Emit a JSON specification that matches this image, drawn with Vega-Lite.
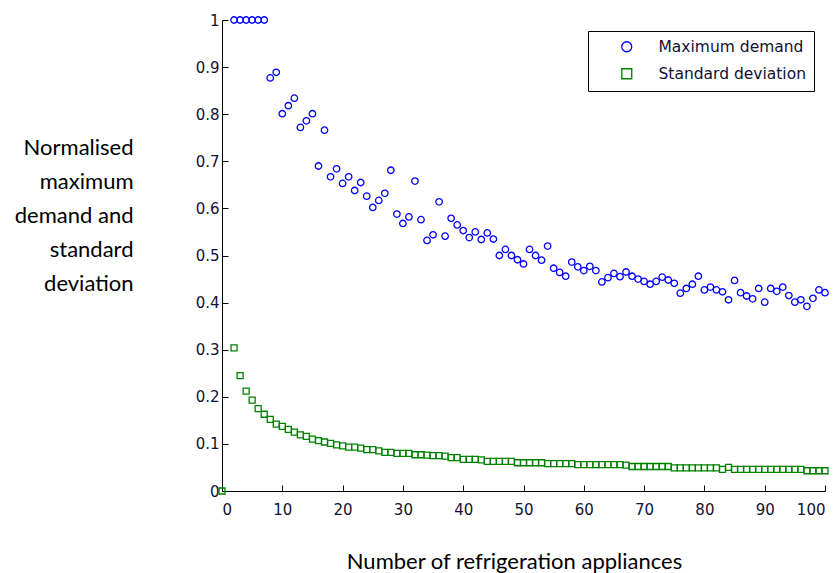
{
  "$schema": "https://vega.github.io/schema/vega-lite/v6.json",
  "autosize": "none",
  "width": 603,
  "height": 471,
  "padding": {"left": 222, "top": 20, "right": 13, "bottom": 82},
  "background": "white",
  "config": {
    "view": {"stroke": null},
    "axis": {
      "grid": false,
      "domainColor": "black",
      "domainWidth": 1,
      "tickColor": "black",
      "tickWidth": 1,
      "tickSize": -6,
      "labelColor": "#111133",
      "labelFont": "DejaVu Sans",
      "labelFontSize": 15,
      "titleColor": "black",
      "titleFont": "Lato",
      "titleFontSize": 22,
      "titleFontWeight": "normal"
    }
  },
  "datasets": {
    "md": [
      {"n": 2, "v": 1}, {"n": 3, "v": 1}, {"n": 4, "v": 1}, {"n": 5, "v": 1}, {"n": 6, "v": 1}, {"n": 7, "v": 1},
      {"n": 8, "v": 0.877}, {"n": 9, "v": 0.889}, {"n": 10, "v": 0.801}, {"n": 11, "v": 0.818}, {"n": 12, "v": 0.834},
      {"n": 13, "v": 0.772}, {"n": 14, "v": 0.786}, {"n": 15, "v": 0.801}, {"n": 16, "v": 0.69}, {"n": 17, "v": 0.766},
      {"n": 18, "v": 0.667}, {"n": 19, "v": 0.684}, {"n": 20, "v": 0.653}, {"n": 21, "v": 0.667}, {"n": 22, "v": 0.638},
      {"n": 23, "v": 0.655}, {"n": 24, "v": 0.626}, {"n": 25, "v": 0.602}, {"n": 26, "v": 0.617}, {"n": 27, "v": 0.632},
      {"n": 28, "v": 0.681}, {"n": 29, "v": 0.588}, {"n": 30, "v": 0.568}, {"n": 31, "v": 0.582}, {"n": 32, "v": 0.658},
      {"n": 33, "v": 0.576}, {"n": 34, "v": 0.532}, {"n": 35, "v": 0.544}, {"n": 36, "v": 0.614}, {"n": 37, "v": 0.541},
      {"n": 38, "v": 0.579}, {"n": 39, "v": 0.565}, {"n": 40, "v": 0.553}, {"n": 41, "v": 0.538}, {"n": 42, "v": 0.55},
      {"n": 43, "v": 0.534}, {"n": 44, "v": 0.548}, {"n": 45, "v": 0.535}, {"n": 46, "v": 0.5}, {"n": 47, "v": 0.513},
      {"n": 48, "v": 0.5}, {"n": 49, "v": 0.491}, {"n": 50, "v": 0.482}, {"n": 51, "v": 0.513}, {"n": 52, "v": 0.5},
      {"n": 53, "v": 0.49}, {"n": 54, "v": 0.52}, {"n": 55, "v": 0.473}, {"n": 56, "v": 0.464}, {"n": 57, "v": 0.456},
      {"n": 58, "v": 0.486}, {"n": 59, "v": 0.476}, {"n": 60, "v": 0.468}, {"n": 61, "v": 0.477}, {"n": 62, "v": 0.468},
      {"n": 63, "v": 0.444}, {"n": 64, "v": 0.453}, {"n": 65, "v": 0.462}, {"n": 66, "v": 0.455}, {"n": 67, "v": 0.465},
      {"n": 68, "v": 0.456}, {"n": 69, "v": 0.45}, {"n": 70, "v": 0.445}, {"n": 71, "v": 0.439}, {"n": 72, "v": 0.445},
      {"n": 73, "v": 0.454}, {"n": 74, "v": 0.448}, {"n": 75, "v": 0.441}, {"n": 76, "v": 0.42}, {"n": 77, "v": 0.43},
      {"n": 78, "v": 0.439}, {"n": 79, "v": 0.456}, {"n": 80, "v": 0.427}, {"n": 81, "v": 0.433}, {"n": 82, "v": 0.427},
      {"n": 83, "v": 0.423}, {"n": 84, "v": 0.406}, {"n": 85, "v": 0.447}, {"n": 86, "v": 0.421}, {"n": 87, "v": 0.414},
      {"n": 88, "v": 0.408}, {"n": 89, "v": 0.43}, {"n": 90, "v": 0.401}, {"n": 91, "v": 0.43}, {"n": 92, "v": 0.424},
      {"n": 93, "v": 0.433}, {"n": 94, "v": 0.415}, {"n": 95, "v": 0.401}, {"n": 96, "v": 0.406}, {"n": 97, "v": 0.392},
      {"n": 98, "v": 0.409}, {"n": 99, "v": 0.427}, {"n": 100, "v": 0.421}
    ],
    "sd": [
      {"n": 0, "v": 0}, {"n": 2, "v": 0.304}, {"n": 3, "v": 0.245}, {"n": 4, "v": 0.212}, {"n": 5, "v": 0.193},
      {"n": 6, "v": 0.175}, {"n": 7, "v": 0.163}, {"n": 8, "v": 0.152}, {"n": 9, "v": 0.142}, {"n": 10, "v": 0.137},
      {"n": 11, "v": 0.131}, {"n": 12, "v": 0.125}, {"n": 13, "v": 0.119}, {"n": 14, "v": 0.116}, {"n": 15, "v": 0.11},
      {"n": 16, "v": 0.107}, {"n": 17, "v": 0.104}, {"n": 18, "v": 0.101}, {"n": 19, "v": 0.098}, {"n": 20, "v": 0.096},
      {"n": 21, "v": 0.093}, {"n": 22, "v": 0.093}, {"n": 23, "v": 0.091}, {"n": 24, "v": 0.088}, {"n": 25, "v": 0.088},
      {"n": 26, "v": 0.085}, {"n": 27, "v": 0.082}, {"n": 28, "v": 0.082}, {"n": 29, "v": 0.08}, {"n": 30, "v": 0.08},
      {"n": 31, "v": 0.08}, {"n": 32, "v": 0.077}, {"n": 33, "v": 0.077}, {"n": 34, "v": 0.076}, {"n": 35, "v": 0.075},
      {"n": 36, "v": 0.075}, {"n": 37, "v": 0.074}, {"n": 38, "v": 0.071}, {"n": 39, "v": 0.071}, {"n": 40, "v": 0.067},
      {"n": 41, "v": 0.067}, {"n": 42, "v": 0.067}, {"n": 43, "v": 0.066}, {"n": 44, "v": 0.063}, {"n": 45, "v": 0.063},
      {"n": 46, "v": 0.063}, {"n": 47, "v": 0.063}, {"n": 48, "v": 0.063}, {"n": 49, "v": 0.06}, {"n": 50, "v": 0.06},
      {"n": 51, "v": 0.06}, {"n": 52, "v": 0.06}, {"n": 53, "v": 0.06}, {"n": 54, "v": 0.058}, {"n": 55, "v": 0.058},
      {"n": 56, "v": 0.058}, {"n": 57, "v": 0.058}, {"n": 58, "v": 0.058}, {"n": 59, "v": 0.056}, {"n": 60, "v": 0.056},
      {"n": 61, "v": 0.056}, {"n": 62, "v": 0.056}, {"n": 63, "v": 0.056}, {"n": 64, "v": 0.056}, {"n": 65, "v": 0.056},
      {"n": 66, "v": 0.056}, {"n": 67, "v": 0.055}, {"n": 68, "v": 0.052}, {"n": 69, "v": 0.052}, {"n": 70, "v": 0.052},
      {"n": 71, "v": 0.052}, {"n": 72, "v": 0.052}, {"n": 73, "v": 0.052}, {"n": 74, "v": 0.052}, {"n": 75, "v": 0.049},
      {"n": 76, "v": 0.049}, {"n": 77, "v": 0.049}, {"n": 78, "v": 0.049}, {"n": 79, "v": 0.049}, {"n": 80, "v": 0.049},
      {"n": 81, "v": 0.049}, {"n": 82, "v": 0.049}, {"n": 83, "v": 0.046}, {"n": 84, "v": 0.05}, {"n": 85, "v": 0.046},
      {"n": 86, "v": 0.046}, {"n": 87, "v": 0.046}, {"n": 88, "v": 0.046}, {"n": 89, "v": 0.046}, {"n": 90, "v": 0.046},
      {"n": 91, "v": 0.046}, {"n": 92, "v": 0.046}, {"n": 93, "v": 0.046}, {"n": 94, "v": 0.046}, {"n": 95, "v": 0.046},
      {"n": 96, "v": 0.046}, {"n": 97, "v": 0.043}, {"n": 98, "v": 0.043}, {"n": 99, "v": 0.043}, {"n": 100, "v": 0.043}
    ]
  },
  "encoding": {
    "x": {
      "field": "n", "type": "quantitative",
      "scale": {"domain": [0, 100], "nice": false},
      "axis": {
        "values": [0, 10, 20, 30, 40, 50, 60, 70, 80, 90, 100],
        "labelPadding": 17,
        "title": "Number of refrigeration appliances",
        "titleX": 292, "titleY": 70, "titleBaseline": "middle", "titleAlign": "center"
      }
    },
    "y": {
      "field": "v", "type": "quantitative",
      "scale": {"domain": [0, 1], "nice": false},
      "axis": {
        "values": [0, 0.1, 0.2, 0.3, 0.4, 0.5, 0.6, 0.7, 0.8, 0.9, 1],
        "format": "~g",
        "labelPadding": 9,
        "title": ["Normalised", "maximum", "demand and", "standard", "deviation"],
        "titleAngle": 0,
        "titleAlign": "right",
        "titleBaseline": "middle",
        "titleLineHeight": 34,
        "titleX": -89,
        "titleY": 127
      }
    },
    "color": {
      "scale": {"domain": ["Maximum demand", "Standard deviation"], "range": ["#0000ff", "#008000"]},
      "legend": {
        "title": null,
        "orient": "none",
        "legendX": 366,
        "legendY": 11,
        "padding": 8,
        "strokeColor": "black",
        "fillColor": "white",
        "symbolOffset": 23,
        "symbolSize": 100,
        "symbolStrokeWidth": 1.3,
        "labelOffset": 24,
        "labelFont": "DejaVu Sans",
        "labelFontSize": 15.5,
        "labelColor": "#111133",
        "rowPadding": 10
      }
    },
    "shape": {
      "scale": {"domain": ["Maximum demand", "Standard deviation"], "range": ["circle", "square"]}
    }
  },
  "layer": [
    {
      "data": {"name": "md"},
      "mark": {"type": "point", "filled": false, "size": 42, "strokeWidth": 1.3, "opacity": 1},
      "encoding": {
        "color": {"datum": "Maximum demand"},
        "shape": {"datum": "Maximum demand"}
      }
    },
    {
      "data": {"name": "sd"},
      "mark": {"type": "point", "filled": false, "size": 36, "strokeWidth": 1.3, "opacity": 1},
      "encoding": {
        "color": {"datum": "Standard deviation"},
        "shape": {"datum": "Standard deviation"}
      }
    }
  ]
}
